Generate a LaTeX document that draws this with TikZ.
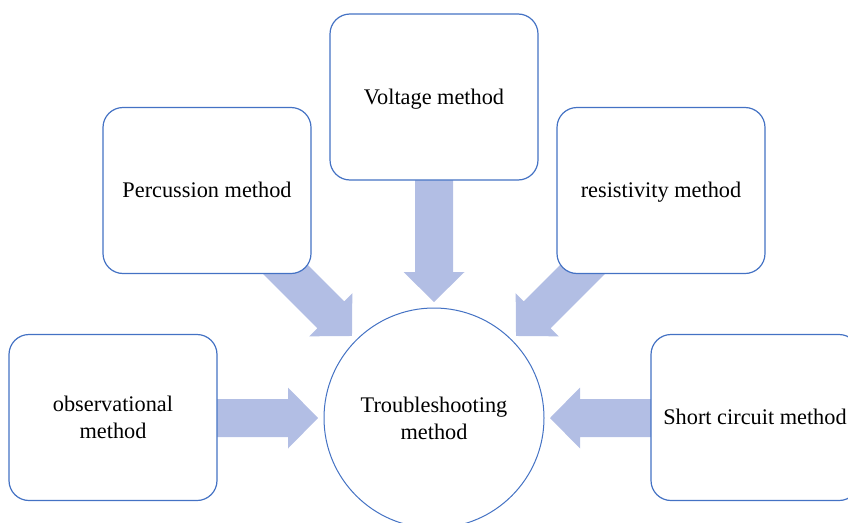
\documentclass[tikz,border=0pt]{standalone}
\usepackage{fontspec}
\setmainfont{Liberation Serif}
\definecolor{boxblue}{RGB}{68,114,196}
\definecolor{arrowfill}{RGB}{178,190,228}
\tikzset{
  methodbox/.style={draw=boxblue, line width=1.2pt, fill=white, rounded corners=20pt,
    rectangle, minimum width=208pt, minimum height=166pt, align=center,
    font=\fontsize{22.3}{26.8}\selectfont, text=black},
  oneline/.style={text height=18pt, text depth=4pt},
  centercircle/.style={draw=boxblue, line width=1pt, fill=white, circle,
    minimum size=220pt, inner sep=0pt, align=center,
    font=\fontsize{22.3}{26.8}\selectfont, text=black},
  blockarrow/.style={fill=arrowfill, draw=none}
}
\newcommand{\bigarrow}[2]{%
  \begin{scope}[shift={(434,418)}, rotate=#1]
    \fill[blockarrow] (116,0) -- (146,30.5) -- (146,19) -- (#2,19) -- (#2,-19) -- (146,-19) -- (146,-30.5) -- cycle;
  \end{scope}}
\begin{document}
\begin{tikzpicture}[x=1pt,y=-1pt]
  \useasboundingbox (0,0) rectangle (848,522);
  \clip (0,0) rectangle (848,522);
  % block arrows pointing to the centre
  \bigarrow{90}{245}
  \bigarrow{135}{232}
  \bigarrow{45}{232}
  \bigarrow{180}{225}
  \bigarrow{0}{225}
  % centre
  \node[centercircle] (center) at (434,418) {Troubleshooting\\method};
  % boxes
  \node[methodbox, oneline] (voltage) at (434,97) {Voltage method};
  \node[methodbox, oneline] (percussion) at (207,190.5) {Percussion method};
  \node[methodbox, oneline] (resistivity) at (661,190.5) {resistivity method};
  \node[methodbox] (observational) at (113,417.5) {observational\\method};
  \node[methodbox, oneline] (short) at (755,417.5) {Short circuit method};
\end{tikzpicture}
\end{document}
